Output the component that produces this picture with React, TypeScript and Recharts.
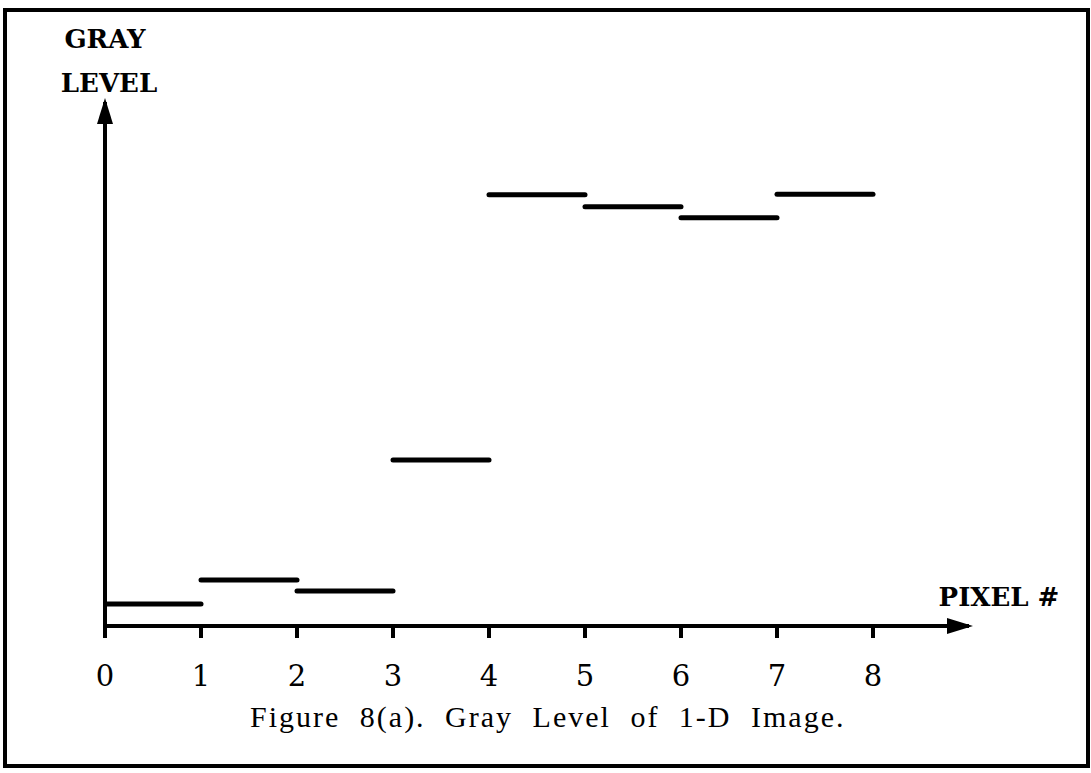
import React from 'react';
import { LineChart, Line, XAxis, YAxis } from 'recharts';

// gray level of each pixel of the 1-D image (arbitrary 0..100 scale)
const pixels = [0, 1, 2, 3, 4, 5, 6, 7];
const grayLevels = [4.2, 8.8, 6.7, 31.7, 82.3, 80.0, 77.9, 82.4];
const pixelTicks = [0, 1, 2, 3, 4, 5, 6, 7, 8];

const segments = pixels.map((p, i) => [
  { x: p, y: grayLevels[i] },
  { x: p + 1, y: grayLevels[i] },
]);

const W = 1091;
const H = 773;

const App: React.FC = () => {
  return (
    <div style={{ position: 'absolute', left: 0, top: 0, width: W, height: H, background: '#fff' }}>
      <div
        style={{
          position: 'absolute',
          left: 3,
          top: 8,
          width: 1087,
          height: 760,
          border: '4px solid #000',
          boxSizing: 'border-box',
        }}
      />
      <svg width={0} height={0} style={{ position: 'absolute' }}>
        <defs>
          <marker
            id="arrow"
            markerUnits="userSpaceOnUse"
            markerWidth={26}
            markerHeight={16}
            refX={22}
            refY={8}
            orient="auto-start-reverse"
          >
            <path d="M0,0 L26,8 L0,16 z" fill="#000" />
          </marker>
        </defs>
      </svg>
      <div style={{ position: 'absolute', left: 0, top: 0 }}>
        <LineChart width={W} height={H} margin={{ top: 102, right: 122, left: 85, bottom: 87 }}>
          <XAxis
            type="number"
            dataKey="x"
            domain={[0, 9]}
            ticks={pixelTicks}
            interval={0}
            height={60}
            tickSize={12}
            tickMargin={27}
            axisLine={{ stroke: '#000', strokeWidth: 4, markerEnd: 'url(#arrow)' }}
            tickLine={{ stroke: '#000', strokeWidth: 4 }}
            tick={{ fill: '#000', fontSize: 29, fontFamily: 'DejaVu Serif' }}
            allowDataOverflow
          />
          <YAxis
            type="number"
            domain={[0, 100]}
            width={20}
            tick={false}
            tickLine={false}
            axisLine={{ stroke: '#000', strokeWidth: 4, markerStart: 'url(#arrow)' }}
            allowDataOverflow
          />
          {segments.map((seg, i) => (
            <Line
              key={i}
              data={seg}
              dataKey="y"
              stroke="#000"
              strokeWidth={5}
              strokeLinecap="round"
              dot={false}
              activeDot={false}
              isAnimationActive={false}
            />
          ))}
        </LineChart>
      </div>
      <svg
        width={W}
        height={H}
        style={{ position: 'absolute', left: 0, top: 0, pointerEvents: 'none' }}
      >
        <text x={105} y={48} textAnchor="middle" fontFamily="DejaVu Serif" fontWeight="bold" fontSize={26} fill="#000">
          GRAY
        </text>
        <text x={109} y={92} textAnchor="middle" fontFamily="DejaVu Serif" fontWeight="bold" fontSize={26} fill="#000">
          LEVEL
        </text>
        <text x={999} y={606} textAnchor="middle" fontFamily="DejaVu Serif" fontWeight="bold" fontSize={26} fill="#000">
          PIXEL #
        </text>
        <text
          x={250}
          y={727}
          fontFamily="Liberation Serif"
          fontSize={30}
          fill="#000"
          style={{ letterSpacing: 2, wordSpacing: 10 }}
        >
          Figure 8(a). Gray Level of 1-D Image.
        </text>
      </svg>
    </div>
  );
};

export default App;
